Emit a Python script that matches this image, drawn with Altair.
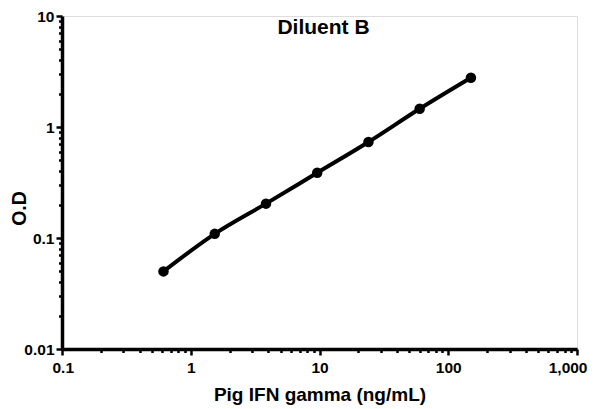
import altair as alt
import pandas as pd

# Data
conc = [0.614, 1.536, 3.84, 9.6, 24.0, 60.0, 150.0]
od = [0.050, 0.109, 0.204, 0.387, 0.733, 1.46, 2.78]

x_decades = [0.1, 1, 10, 100]
y_decades = [0.01, 0.1, 1]
multipliers = [1, 2, 3, 4, 5, 6, 7, 8, 9]
x_tick_values = [d * m for d in x_decades for m in multipliers] + [1000]
y_tick_values = [d * m for d in y_decades for m in multipliers] + [10]

df = pd.DataFrame({"conc": conc, "od": od})

FONT = "Liberation Sans"
is_major = "abs(log(datum.value)/LN10 - round(log(datum.value)/LN10)) < 1e-6"

x_axis = alt.Axis(
    values=x_tick_values,
    labelExpr=f"({is_major}) ? format(datum.value, ',') : ''",
    title="Pig IFN gamma (ng/mL)",
    titleFont=FONT, titleFontSize=19, titleFontWeight="bold", titleColor="black",
    titleY=36,
    labelFont=FONT, labelFontSize=15.5, labelFontWeight="bold", labelColor="black",
    labelPadding=5, labelFlush=True, labelFlushOffset=10, labelOverlap=False,
    tickSize={"condition": {"test": is_major, "value": 6}, "value": 3.5},
    tickWidth=2.5, tickColor="black",
    domainColor="black", domainWidth=3.5, grid=False,
)
y_axis = alt.Axis(
    values=y_tick_values,
    labelExpr=f"({is_major}) ? format(datum.value, '~g') : ''",
    title="O.D",
    titleFont=FONT, titleFontSize=19.5, titleFontWeight="bold", titleColor="black",
    titleX=-33, titleY=192, titleAngle=-90,
    labelFont=FONT, labelFontSize=15.5, labelFontWeight="bold", labelColor="black",
    labelPadding=2, labelFlush=False, labelOverlap=False,
    tickSize={"condition": {"test": is_major, "value": 6}, "value": 3.5},
    tickWidth=2.5, tickColor="black",
    domainColor="black", domainWidth=3.5, grid=False,
)

x_enc = alt.X("conc:Q", scale=alt.Scale(type="log", domain=[0.1, 1000], nice=False), axis=x_axis)
y_enc = alt.Y("od:Q", scale=alt.Scale(type="log", domain=[0.01, 10], nice=False), axis=y_axis)

base = alt.Chart(df).encode(x=x_enc, y=y_enc)
line = base.mark_line(color="black", strokeWidth=4, interpolate="monotone")
points = base.mark_point(filled=True, color="black", size=110, opacity=1)

chart = (
    alt.layer(line, points)
    .properties(
        width=515,
        height=333,
        autosize=alt.AutoSizeParams(type="none"),
        padding={"left": 54, "top": 8, "right": 13, "bottom": 59},
        title=alt.TitleParams(
            text="Diluent B", font=FONT, fontSize=21, fontWeight="bold",
            color="black", anchor="middle", frame="group", baseline="top",
            dy=33, dx=4,
        ),
    )
    .configure_view(stroke=None)
    .configure(background="white")
)

chart.save("out.html", embed_options={"renderer": "svg", "actions": False})
